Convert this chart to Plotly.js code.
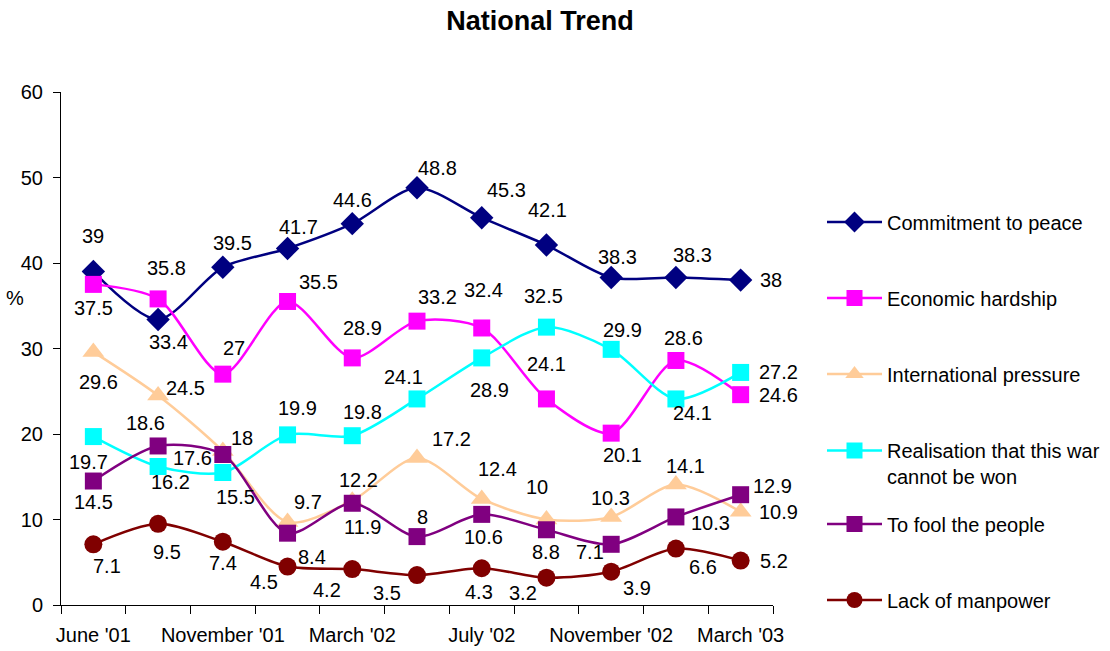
<!DOCTYPE html>
<html>
<head>
<meta charset="utf-8">
<script src="https://cdn.plot.ly/plotly-3.0.1.min.js"></script>
<style>html,body{margin:0;padding:0;background:#fff;}#chart{width:1110px;height:651px;}</style>
</head>
<body>
<div id="chart"></div>
<script>
// ---- data ----
const surveys = [0, 1, 2, 3, 4, 5, 6, 7, 8, 9, 10];
const tickPositions = [0, 2, 4, 6, 8, 10];
const tickLabels = ["June '01", "November '01", "March '02", "July '02", "November '02", "March '03"];

const commitmentToPeace = [39, 33.4, 39.5, 41.7, 44.6, 48.8, 45.3, 42.1, 38.3, 38.3, 38];
const economicHardship = [37.5, 35.8, 27, 35.5, 28.9, 33.2, 32.4, 24.1, 20.1, 28.6, 24.6];
const internationalPressure = [29.6, 24.5, 18, 9.7, 12.2, 17.2, 12.4, 10, 10.3, 14.1, 10.9];
const realisationWar = [19.7, 16.2, 15.5, 19.9, 19.8, 24.1, 28.9, 32.5, 29.9, 24.1, 27.2];
const toFoolPeople = [14.5, 18.6, 17.6, 8.4, 11.9, 8, 10.6, 8.8, 7.1, 10.3, 12.9];
const lackOfManpower = [7.1, 9.5, 7.4, 4.5, 4.2, 3.5, 4.3, 3.2, 3.9, 6.6, 5.2];

const seriesNames = ["Commitment to peace", "Economic hardship", "International pressure",
  "Realisation that this war<br>cannot be won", "To fool the people", "Lack of manpower"];

// ---- styles ----
const FONT = "Arial, 'Liberation Sans', Helvetica, sans-serif";
const styles = [
  {color: "#000080", symbol: "diamond", size: 18},
  {color: "#FF00FF", symbol: "square", size: 17},
  {color: "#FFCC99", symbol: "triangle-up", size: 19},
  {color: "#00FFFF", symbol: "square", size: 17},
  {color: "#800080", symbol: "square", size: 17},
  {color: "#800000", symbol: "circle", size: 18}
];
// label offsets in screen pixels (dx right, dy down)
const labelOffsets = [
  [[0,-36],[10,23],[10,-24],[11,-21],[0,-24],[20,-20],[25,-28],[1,-35],[6,-21],[17,-23],[30,0]],
  [[0,24],[8,-31],[11,-26],[31,-19],[10,-30],[20,-24],[2,-38],[0,-35],[11,22],[8,-22],[38,0]],
  [[5,30],[27,-8],[19,-13],[20,-20],[6,-21],[34,-19],[16,-30],[-9,-33],[-1,-19],[10,-18],[38,0]],
  [[-5,25],[12,16],[13,25],[10,-27],[10,-24],[-14,-22],[8,32],[-3,-31],[11,-19],[17,14],[38,0]],
  [[0,21],[-13,-23],[-30,3],[24,24],[10,24],[5,-20],[2,23],[0,22],[-21,8],[35,6],[32,-9]],
  [[14,22],[9,28],[0,21],[-24,15],[-25,21],[-30,18],[-3,24],[-23,15],[26,16],[27,18],[33,0]]
];
// legend symbol y positions (px from top of page)
const legendY = [222, 298, 374, 450, 524, 600];

const allSeries = [commitmentToPeace, economicHardship, internationalPressure, realisationWar, toFoolPeople, lackOfManpower];

const traces = [];
const annotations = [];
const layout = {
  width: 1110, height: 651,
  paper_bgcolor: "#ffffff", plot_bgcolor: "#ffffff",
  margin: {l: 61, r: 337, t: 92, b: 46, pad: 0},
  font: {family: FONT, size: 20, color: "#000"},
  showlegend: true,
  hovermode: false,
  title: {text: "<b>National Trend</b>", font: {family: FONT, size: 27, color: "#000"},
    xref: "container", yref: "container", x: 540/1110, y: 1 - 21/651, xanchor: "center", yanchor: "middle"},
  xaxis: {
    range: [-0.5, 10.5], showgrid: false, zeroline: false, showline: true, linecolor: "#000", linewidth: 1,
    tickmode: "array", tickvals: tickPositions, ticktext: tickLabels, ticks: "", ticklabelstandoff: 12,
    tickfont: {family: FONT, size: 20, color: "#000"},
    minor: {tickmode: "array", tickvals: [-0.5,0.5,1.5,2.5,3.5,4.5,5.5,6.5,7.5,8.5,9.5,10.5], ticks: "outside", ticklen: 8, tickcolor: "#000", tickwidth: 1, showgrid: false}
  },
  yaxis: {
    range: [0, 60], dtick: 10, tick0: 0, showgrid: false, zeroline: false, showline: true, linecolor: "#000", linewidth: 1,
    ticks: "outside", ticklen: 7, tickcolor: "#000", ticklabelstandoff: 6,
    tickfont: {family: FONT, size: 20, color: "#000"}
  },
  annotations: annotations
};

allSeries.forEach((vals, s) => {
  const st = styles[s];
  const legendKey = s === 0 ? "legend" : "legend" + (s + 1);
  traces.push({
    x: surveys, y: vals, type: "scatter", mode: "lines+markers",
    name: seriesNames[s],
    legend: legendKey,
    line: {color: st.color, width: 2.5, shape: "spline", smoothing: 0.8},
    marker: {color: st.color, symbol: st.symbol, size: st.size, line: {width: 0}},
    cliponaxis: false
  });
  layout[legendKey] = {
    xref: "container", yref: "container",
    x: 822/1110, y: 1 - legendY[s]/651, xanchor: "left", yanchor: "middle",
    valign: "top",
    bgcolor: "rgba(0,0,0,0)", borderwidth: 0,
    font: {family: FONT, size: 20, color: "#000"},
    itemwidth: 55
  };
  if (s === 3) { layout[legendKey].yanchor = "top"; layout[legendKey].y = 1 - (legendY[s] - 19)/651; }
  vals.forEach((v, i) => {
    const off = labelOffsets[s][i];
    annotations.push({
      x: surveys[i], y: v, xref: "x", yref: "y", text: String(v), showarrow: false,
      xshift: off[0], yshift: -off[1], xanchor: "center", yanchor: "middle",
      font: {family: FONT, size: 20, color: "#000"}
    });
  });
});

annotations.push({
  xref: "paper", yref: "paper", x: (15 - 61)/712, y: (605 - 298)/513, text: "%", showarrow: false,
  xanchor: "center", yanchor: "middle", font: {family: FONT, size: 20, color: "#000"}
});

Plotly.newPlot("chart", traces, layout, {displayModeBar: false, staticPlot: true});
</script>
</body>
</html>
